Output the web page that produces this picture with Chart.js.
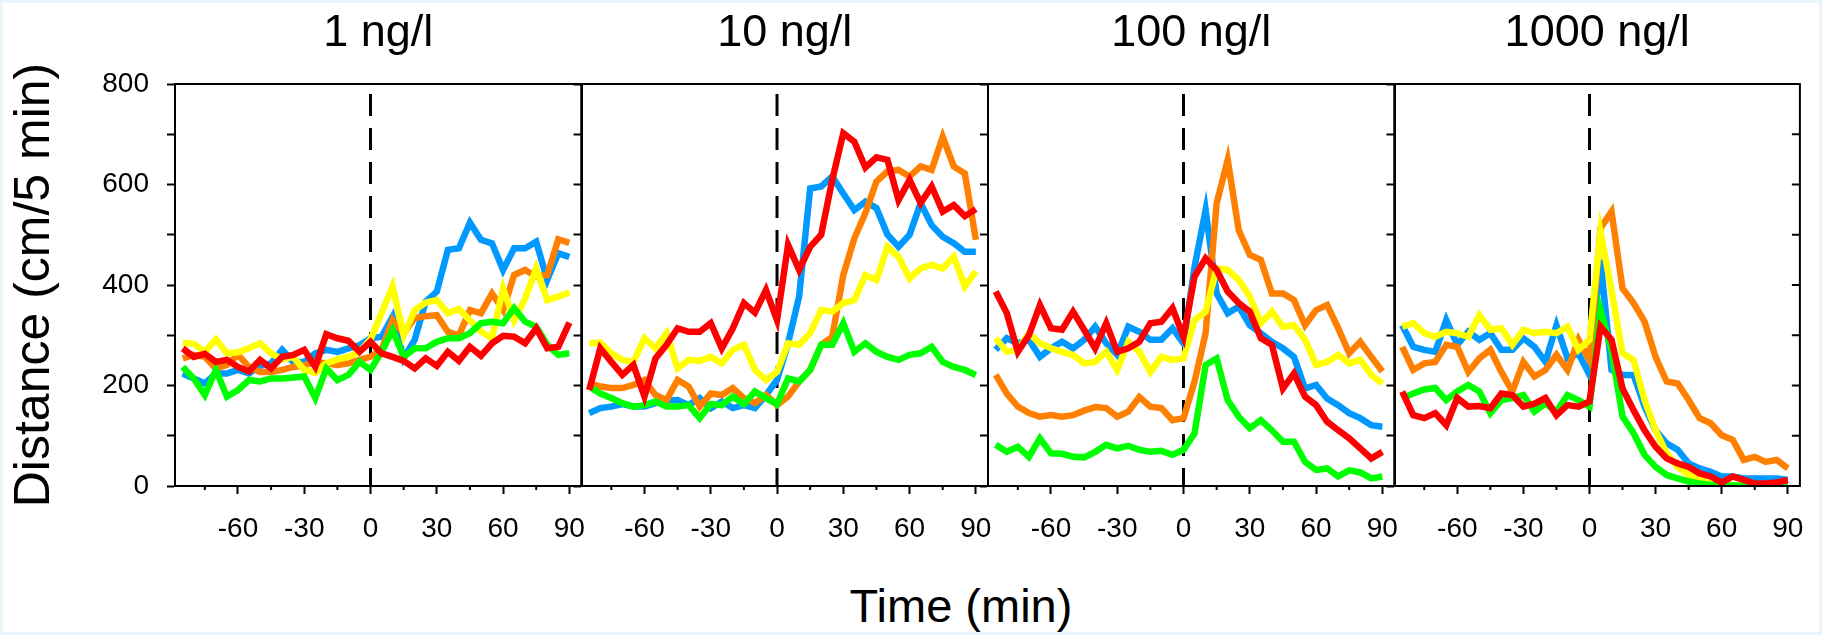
<!DOCTYPE html>
<html>
<head>
<meta charset="utf-8">
<title>Distance per 5 min</title>
<script src="https://cdn.jsdelivr.net/npm/chart.js@4.4.1/dist/chart.umd.min.js"></script>
<style>
  html, body { margin: 0; padding: 0; background: #fff; }
  #wrap { position: relative; width: 1822px; height: 635px; box-shadow: inset 0 0 0 3px #eaf4fb; }
  #wrap canvas { position: absolute; left: 0; top: 0; }
  #xTitle {
    position: absolute; left: 961px; top: 582px; transform: translateX(-50%);
    font: 47px "Liberation Sans", Arial, sans-serif; line-height: 47px; white-space: nowrap; color: #000;
  }
</style>
</head>
<body>
<div id="wrap">
  <div id="xTitle">Time (min)</div>
</div>
<script>
// time points, every 5 min
const minutes = [-85, -80, -75, -70, -65, -60, -55, -50, -45, -40, -35, -30, -25, -20, -15, -10, -5, 0,
                 5, 10, 15, 20, 25, 30, 35, 40, 45, 50, 55, 60, 65, 70, 75, 80, 85, 90];

const panelTitles = ["1 ng/l", "10 ng/l", "100 ng/l", "1000 ng/l"];
const timeTicks = [-60, -30, 0, 30, 60, 90];
const minorTimeTicks = [-75, -45, -15, 15, 45, 75];
const distanceTicks = [0, 100, 200, 300, 400, 500, 600, 700, 800];
const treatmentTime = 0;
const markerTop = 780;

// 1 ng/l
const p1Blue   = [224, 214, 204, 224, 224, 231, 224, 239, 244, 271, 247, 247, 264, 271, 267, 274, 280, 294,
                  297, 337, 254, 291, 367, 387, 470, 473, 524, 490, 483, 430, 473, 473, 486, 410, 463, 456];
const p1Orange = [254, 261, 257, 234, 241, 261, 237, 227, 227, 231, 237, 240, 247, 244, 241, 244, 251, 257,
                  271, 330, 304, 334, 338, 340, 307, 300, 350, 344, 383, 350, 420, 430, 417, 420, 491, 484];
const p1Yellow = [285, 283, 267, 292, 264, 266, 274, 284, 264, 252, 257, 231, 225, 244, 252, 257, 267, 292,
                  344, 397, 300, 350, 365, 370, 344, 352, 330, 307, 294, 393, 330, 373, 433, 370, 377, 385];
const p1Green  = [237, 214, 181, 231, 178, 191, 211, 208, 214, 214, 216, 218, 175, 234, 211, 221, 247, 231,
                  267, 310, 257, 274, 274, 287, 294, 294, 304, 324, 327, 324, 354, 327, 317, 281, 261, 264];
const p1Red    = [274, 257, 263, 247, 251, 237, 228, 251, 234, 257, 261, 271, 237, 302, 294, 289, 267, 287,
                  264, 257, 249, 234, 254, 239, 267, 249, 277, 259, 284, 299, 297, 284, 314, 274, 277, 325];

// 10 ng/l
const p2Blue   = [145, 155, 158, 163, 158, 158, 165, 170, 171, 161, 175, 155, 168, 155, 161, 155, 181, 211,
                  284, 377, 592, 596, 616, 582, 549, 566, 553, 500, 476, 500, 563, 519, 496, 483, 466, 466];
const p2Orange = [204, 198, 195, 195, 201, 211, 181, 171, 211, 198, 158, 184, 181, 195, 175, 165, 181, 161,
                  178, 208, 231, 281, 297, 420, 493, 543, 606, 626, 629, 616, 636, 629, 695, 636, 622, 490];
const p2Yellow = [284, 285, 264, 251, 247, 294, 274, 304, 234, 251, 249, 257, 244, 271, 281, 231, 211, 227,
                  284, 281, 304, 350, 347, 364, 370, 420, 410, 476, 456, 413, 433, 440, 433, 456, 397, 427];
const p2Green  = [198, 184, 175, 165, 158, 161, 168, 158, 158, 161, 135, 163, 161, 178, 163, 188, 175, 163,
                  214, 208, 231, 281, 281, 324, 267, 284, 267, 257, 251, 261, 264, 277, 247, 237, 231, 221];
const p2Red    = [191, 274, 247, 221, 241, 178, 254, 281, 314, 307, 307, 324, 274, 314, 364, 345, 390, 330,
                  480, 430, 476, 500, 609, 702, 685, 634, 654, 649, 569, 609, 563, 596, 546, 559, 537, 551];

// 100 ng/l
const p3Blue   = [271, 294, 284, 291, 257, 274, 287, 274, 291, 317, 284, 261, 317, 307, 291, 291, 314, 284,
                  436, 549, 383, 344, 357, 320, 304, 287, 274, 257, 194, 201, 174, 161, 145, 135, 121, 118];
const p3Orange = [221, 184, 158, 145, 138, 141, 138, 141, 150, 157, 155, 138, 148, 177, 158, 155, 131, 135,
                  208, 304, 563, 649, 509, 460, 450, 383, 383, 370, 320, 350, 360, 314, 264, 287, 257, 228];
const p3Yellow = [294, 267, 271, 304, 284, 274, 267, 261, 244, 247, 267, 231, 287, 267, 227, 257, 251, 254,
                  330, 347, 433, 430, 410, 377, 324, 347, 317, 320, 291, 241, 247, 261, 244, 251, 221, 204];
const p3Green  = [82, 68, 78, 58, 95, 65, 64, 58, 57, 68, 82, 75, 80, 72, 68, 70, 62, 72,
                  105, 241, 254, 171, 138, 115, 131, 111, 88, 88, 48, 32, 35, 19, 31, 27, 15, 19];
const p3Red    = [387, 344, 267, 300, 360, 314, 311, 347, 311, 274, 324, 267, 274, 287, 324, 327, 354, 297,
                  417, 453, 430, 387, 364, 347, 294, 281, 194, 224, 178, 161, 128, 111, 95, 75, 55, 68];

// 1000 ng/l
const p4Blue   = [320, 277, 271, 267, 330, 281, 307, 291, 304, 271, 271, 294, 277, 247, 320, 254, 264, 221,
                  450, 231, 221, 221, 158, 111, 85, 72, 45, 35, 28, 19, 19, 15, 15, 15, 15, 12];
const p4Orange = [277, 231, 244, 247, 281, 277, 227, 254, 271, 227, 188, 247, 218, 231, 261, 231, 291, 250,
                  513, 546, 393, 364, 327, 257, 208, 204, 171, 135, 125, 101, 92, 52, 58, 48, 52, 35];
const p4Yellow = [317, 324, 304, 297, 307, 304, 297, 340, 311, 314, 281, 311, 304, 307, 304, 317, 271, 291,
                  506, 390, 264, 251, 171, 111, 65, 38, 22, 12, 5, 4, 2, 1, 2, 2, 2, 2];
const p4Green  = [175, 184, 192, 195, 171, 188, 201, 188, 145, 171, 175, 181, 148, 164, 148, 181, 171, 158,
                  350, 270, 138, 105, 62, 38, 22, 15, 9, 5, 2, 1, 1, 1, 1, 1, 1, 1];
const p4Red    = [188, 141, 135, 145, 121, 175, 158, 159, 155, 184, 181, 158, 164, 175, 141, 161, 158, 168,
                  317, 291, 194, 151, 111, 78, 55, 45, 38, 25, 19, 7, 19, 12, 5, 5, 7, 12];

const panels = [
  { blue: p1Blue, orange: p1Orange, yellow: p1Yellow, green: p1Green, red: p1Red },
  { blue: p2Blue, orange: p2Orange, yellow: p2Yellow, green: p2Green, red: p2Red },
  { blue: p3Blue, orange: p3Orange, yellow: p3Yellow, green: p3Green, red: p3Red },
  { blue: p4Blue, orange: p4Orange, yellow: p4Yellow, green: p4Green, red: p4Red },
];

// drawn top first: red on top, dashed marker at the bottom
const seriesOrder = ["red", "green", "yellow", "orange", "blue"];
const colors = { blue: "#0099ff", orange: "#ff8000", yellow: "#ffff00", green: "#00ff00", red: "#ff0000" };

const W = 1822, H = 635;
const PANEL_LEFT = 175, PANEL_W = 406.5;

Chart.defaults.font.family = '"Liberation Sans", Arial, sans-serif';
Chart.defaults.color = "#000";

// box around each panel, short minor ticks, inward ticks on the last right edge
const panelFrame = {
  id: "panelFrame",
  afterDraw(chart, args, opts) {
    const { ctx, chartArea: a, scales: { x, y } } = chart;
    ctx.save();
    ctx.strokeStyle = "#000";
    ctx.lineWidth = 2;
    ctx.strokeRect(a.left, a.top, a.right - a.left, a.bottom - a.top);
    ctx.beginPath();
    minorTimeTicks.forEach((v) => {
      const px = x.getPixelForValue(v);
      ctx.moveTo(px, a.bottom);
      ctx.lineTo(px, a.bottom + 4);
    });
    if (opts.rightTicks) {
      distanceTicks.forEach((v) => {
        const py = y.getPixelForValue(v);
        ctx.moveTo(a.right, py);
        ctx.lineTo(a.right - 8, py);
      });
    }
    ctx.stroke();
    ctx.restore();
  },
};

const wrap = document.getElementById("wrap");

panels.forEach((p, k) => {
  const first = k === 0;
  const last = k === panels.length - 1;
  const left = PANEL_LEFT + k * PANEL_W;
  const axisW = first ? 175 : 10;

  const canvas = document.createElement("canvas");
  canvas.width = W;
  canvas.height = H;
  wrap.appendChild(canvas);

  const datasets = seriesOrder.map((name) => ({
    label: name,
    data: p[name].map((v, i) => ({ x: minutes[i], y: v })),
    borderColor: colors[name],
    borderWidth: 6.5,
    pointRadius: 0,
    tension: 0,
  }));
  datasets.push({
    label: "treatment",
    data: [{ x: treatmentTime, y: markerTop }, { x: treatmentTime, y: 0 }],
    borderColor: "#000",
    borderWidth: 3,
    borderDash: [22, 12],
    pointRadius: 0,
  });

  new Chart(canvas, {
    type: "line",
    data: { datasets },
    options: {
      responsive: false,
      animation: false,
      devicePixelRatio: 1,
      layout: { padding: { left: left - axisW, right: W - left - PANEL_W, top: 0, bottom: 89 } },
      plugins: {
        legend: { display: false },
        tooltip: { enabled: false },
        title: {
          display: true,
          text: panelTitles[k],
          fullSize: false,
          font: { size: 45, weight: "normal" },
          padding: { top: 7, bottom: 23 },
        },
        panelFrame: { rightTicks: last },
      },
      scales: {
        x: {
          type: "linear",
          min: -88.5,
          max: 95.5,
          afterBuildTicks: (s) => { s.ticks = timeTicks.map((v) => ({ value: v })); },
          afterFit: (s) => { s.height = 60; },
          grid: { drawOnChartArea: false, tickLength: 8, tickColor: "#000", tickWidth: 2 },
          border: { color: "#000", width: 2 },
          ticks: { font: { size: 28 }, padding: 18, maxRotation: 0, autoSkip: false },
        },
        y: {
          min: 0,
          max: 800,
          afterBuildTicks: (s) => { s.ticks = distanceTicks.map((v) => ({ value: v })); },
          afterFit: (s) => { s.width = axisW; },
          grid: { drawOnChartArea: false, tickLength: 8, tickColor: "#000", tickWidth: 2 },
          border: { color: "#000", width: 2 },
          ticks: {
            display: first,
            font: { size: 28 },
            padding: 18,
            callback: (v) => (v % 200 === 0 ? v : ""),
          },
          title: {
            display: first,
            text: "Distance (cm/5 min)",
            font: { size: 50 },
            padding: { top: 5, bottom: 0 },
          },
        },
      },
    },
    plugins: [panelFrame],
  });
});
</script>
</body>
</html>
